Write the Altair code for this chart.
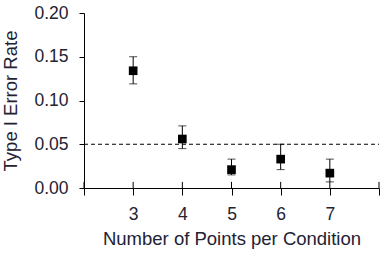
import altair as alt
import pandas as pd

points = [3, 4, 5, 6, 7]
rate = [0.134, 0.056, 0.021, 0.033, 0.017]
upper = [0.150, 0.071, 0.033, 0.050, 0.033]
lower = [0.119, 0.045, 0.015, 0.021, 0.007]
x_ticks = [2, 3, 4, 5, 6, 7, 8]
y_ticks = [0.0, 0.05, 0.10, 0.15, 0.20]
alpha = 0.05

df = pd.DataFrame({"n": points, "rate": rate, "hi": upper, "lo": lower})
ticks_df = pd.DataFrame({"n": x_ticks})
alpha_df = pd.DataFrame({"a": [alpha], "x0": [2], "x1": [8]})

FONT = "Liberation Sans"
TXT = "#222233"

xscale = alt.Scale(domain=[2, 8], nice=False, zero=False)
yscale = alt.Scale(domain=[0, 0.2], nice=False)

xax = alt.Axis(values=x_ticks, title="Number of Points per Condition",
               labelExpr="datum.value == 2 || datum.value == 8 ? '' : datum.label",
               grid=False, domainColor="black", tickColor="black", tickSize=7,
               labelFont=FONT, labelFontSize=17.5, labelColor=TXT, labelPadding=10,
               titleFont=FONT, titleFontSize=18.5, titleColor=TXT, titleFontWeight="normal",
               titlePadding=7)
yax = alt.Axis(values=y_ticks, format=".2f", title="Type I Error Rate",
               grid=False, domainColor="black", tickColor="black", tickSize=5,
               labelFont=FONT, labelFontSize=17.5, labelColor=TXT, labelPadding=11,
               titleFont=FONT, titleFontSize=18.5, titleColor=TXT, titleFontWeight="normal",
               titlePadding=13)

base = alt.Chart(df)

bars = base.mark_rule(color="black", strokeWidth=1).encode(
    x=alt.X("n:Q", scale=xscale, axis=xax),
    y=alt.Y("lo:Q", scale=yscale, axis=yax),
    y2="hi:Q",
)
cap_hi = base.mark_tick(color="black", size=8, thickness=1, orient="horizontal").encode(
    x=alt.X("n:Q", scale=xscale), y=alt.Y("hi:Q", scale=yscale))
cap_lo = base.mark_tick(color="black", size=8, thickness=1, orient="horizontal").encode(
    x=alt.X("n:Q", scale=xscale), y=alt.Y("lo:Q", scale=yscale))
pts = base.mark_square(color="black", size=75, opacity=1).encode(
    x=alt.X("n:Q", scale=xscale), y=alt.Y("rate:Q", scale=yscale))

dash = alt.Chart(alpha_df).mark_rule(
    color="black", strokeDash=[4, 3], strokeWidth=1).encode(
    y=alt.Y("a:Q", scale=yscale), x=alt.X("x0:Q", scale=xscale), x2="x1:Q")

upticks = alt.Chart(ticks_df).mark_rule(color="black", strokeWidth=1).encode(
    x=alt.X("n:Q", scale=xscale), y=alt.datum(0), y2=alt.datum(0.007))

chart = alt.layer(dash, upticks, bars, cap_hi, cap_lo, pts).properties(
    width=295, height=175,
    autosize=alt.AutoSizeParams(type="none"),
    padding={"left": 84, "top": 13, "right": 6, "bottom": 67},
    background="white",
).configure_view(stroke=None)

chart.save("out.html", embed_options={"renderer": "svg", "actions": False})
